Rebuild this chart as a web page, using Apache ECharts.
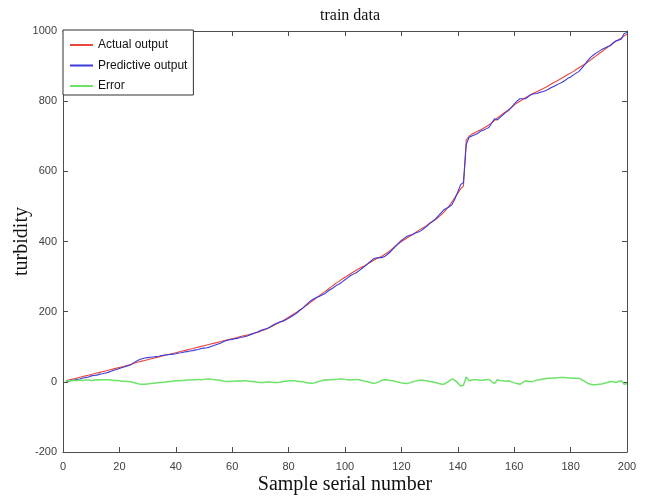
<!DOCTYPE html>
<html>
<head>
<meta charset="utf-8">
<title>train data</title>
<script src="https://cdn.jsdelivr.net/npm/echarts@6/dist/echarts.min.js"></script>
<style>
  html, body { margin: 0; padding: 0; background: #fff; }
  #chart { width: 649px; height: 498px; }
</style>
</head>
<body>
<div id="chart"></div>
<script>
// Turbidity model on the training set: measured vs predicted, samples 1..200
const sampleCount = 200;

const actualOutput = [
  3, 5, 7, 9, 11, 13, 15, 17, 19, 21,
  23, 25, 27, 29, 31, 33, 35, 37, 39, 41,
  43, 45, 47, 49, 52, 55, 57, 59, 61, 63,
  65, 67, 69, 71, 73, 75, 77, 79, 81, 83,
  85, 87, 89, 91, 93, 95, 97, 99, 101, 103,
  105, 107, 109, 111, 113, 115, 117, 119, 121, 123,
  125, 127, 129, 131, 133, 135, 137, 139, 141, 144,
  147, 150, 154, 158, 162, 166, 170, 174, 179, 184,
  189, 194, 199, 205, 210, 216, 222, 228, 234, 240,
  246, 252, 258, 264, 270, 276, 282, 287, 293, 298,
  303, 308, 313, 318, 323, 327, 331, 336, 341, 346,
  350, 354, 358, 363, 368, 374, 381, 388, 394, 400,
  405, 410, 415, 420, 426, 431, 436, 441, 446, 452,
  457, 462, 468, 475, 483, 492, 502, 514, 526, 538,
  550, 558, 690, 700, 706, 710, 714, 718, 722, 727,
  732, 738, 745, 752, 758, 764, 770, 776, 782, 789,
  795, 800, 805, 810, 815, 819, 823, 827, 831, 835,
  839, 843, 848, 853, 857, 862, 866, 871, 876, 880,
  885, 890, 895, 900, 905, 911, 917, 923, 929, 935,
  941, 947, 953, 959, 965, 970, 975, 980, 986, 991
];

const predictiveOutput = [
  1, 2, 4, 5, 7, 8, 11, 12, 14, 17,
  18, 19, 22, 23, 25, 27, 30, 33, 35, 38,
  41, 43, 46, 49, 54, 59, 63, 66, 68, 69,
  70, 71, 72, 73, 75, 76, 77, 78, 79, 80,
  82, 83, 85, 86, 88, 89, 91, 92, 95, 96,
  97, 99, 102, 105, 108, 111, 115, 118, 120, 121,
  123, 124, 127, 128, 130, 133, 136, 139, 142, 146,
  149, 151, 154, 159, 164, 168, 171, 173, 177, 181,
  186, 191, 197, 204, 210, 218, 225, 232, 237, 241,
  244, 248, 252, 259, 264, 269, 275, 279, 285, 291,
  297, 303, 307, 311, 317, 323, 329, 336, 343, 350,
  353, 354, 354, 357, 363, 370, 378, 387, 395, 403,
  409, 415, 418, 420, 424, 427, 431, 437, 443, 451,
  457, 464, 472, 481, 490, 495, 499, 506, 522, 541,
  562, 568, 676, 697, 701, 704, 708, 714, 717, 721,
  725, 737, 750, 746, 754, 761, 768, 773, 782, 792,
  800, 807, 807, 807, 813, 819, 821, 822, 825, 827,
  830, 833, 838, 842, 846, 850, 854, 859, 865, 869,
  875, 880, 885, 894, 904, 915, 924, 931, 937, 942,
  947, 951, 955, 958, 965, 972, 974, 977, 993, 996
];

const errorValues = [
  2, 3, 3, 4, 4, 5, 4, 5, 5, 4,
  5, 6, 5, 6, 6, 6, 5, 4, 4, 3,
  2, 2, 1, 0, -2, -4, -6, -7, -7, -6,
  -5, -4, -3, -2, -2, -1, 0, 1, 2, 3,
  3, 4, 4, 5, 5, 6, 6, 7, 6, 7,
  8, 8, 7, 6, 5, 4, 2, 1, 1, 2,
  2, 3, 2, 3, 3, 2, 1, 0, -1, -2,
  -2, -1, 0, -1, -2, -2, -1, 1, 2, 3,
  3, 3, 2, 1, 0, -2, -3, -4, -3, -1,
  2, 4, 6, 5, 6, 7, 7, 8, 8, 7,
  6, 5, 6, 7, 6, 4, 2, 0, -2, -4,
  -3, 0, 4, 6, 5, 4, 3, 1, -1, -3,
  -4, -5, -3, 0, 2, 4, 5, 4, 3, 1,
  0, -2, -4, -6, -7, -3, 3, 8, 4, -3,
  -12, -10, 14, 3, 5, 6, 6, 4, 5, 6,
  7, 1, -5, 6, 4, 3, 2, 3, 0, -3,
  -5, -7, -2, 3, 2, 0, 2, 5, 6, 8,
  9, 10, 10, 11, 11, 12, 12, 12, 11, 11,
  10, 10, 10, 6, 1, -4, -7, -8, -8, -7,
  -6, -4, -2, 1, 0, -2, 1, 3, -7, -5
];

const xTicks = { min: 0, max: 200, interval: 20 };
const yTicks = { min: -200, max: 1000, interval: 200 };

const sampleNumbers = Array.from({ length: sampleCount }, (_, i) => i + 1);
const pairs = values => sampleNumbers.map((s, i) => [s, values[i]]);

const axisColor = '#4d4d4d';
const labelStyle = {
  color: '#404040',
  fontFamily: 'Liberation Sans, Arial, sans-serif',
  fontSize: 11,
  formatter: v => String(v)
};
const serif = 'Liberation Serif, Times New Roman, serif';

const chart = echarts.init(document.getElementById('chart'), null, { renderer: 'canvas' });

const boxAxis = (extra) => Object.assign({
  type: 'value',
  axisLine: { show: true, onZero: false, lineStyle: { color: axisColor, width: 1 } },
  axisTick: { show: true, inside: true, length: 5, lineStyle: { color: axisColor } },
  splitLine: { show: false }
}, extra);

chart.setOption({
  animation: false,
  backgroundColor: '#ffffff',
  title: {
    text: 'train data',
    left: 345,
    textAlign: 'center',
    top: 3,
    textStyle: { fontFamily: serif, fontWeight: 'normal', fontSize: 16, color: '#111' }
  },
  grid: { left: 63, right: 22, top: 31, bottom: 46, containLabel: false, outerBoundsMode: 'none' },
  legend: {
    orient: 'vertical',
    left: 63,
    top: 30,
    padding: [9, 6, 3, 7],
    itemGap: 8.5,
    itemWidth: 23,
    itemHeight: 2,
    icon: 'rect',
    borderColor: '#333',
    borderWidth: 1,
    backgroundColor: '#fff',
    textStyle: { fontFamily: 'Liberation Sans, Arial, sans-serif', fontSize: 12, color: '#111' },
    data: ['Actual output', 'Predictive output', 'Error']
  },
  xAxis: [
    boxAxis({
      min: xTicks.min, max: xTicks.max, interval: xTicks.interval,
      position: 'bottom',
      name: 'Sample serial number',
      nameLocation: 'middle',
      nameMoveOverlap: false,
      nameGap: 23,
      nameTextStyle: { fontFamily: serif, fontSize: 20, color: '#111' },
      axisLabel: Object.assign({ margin: 9 }, labelStyle)
    }),
    boxAxis({
      min: xTicks.min, max: xTicks.max, interval: xTicks.interval,
      position: 'top',
      axisLabel: { show: false }
    })
  ],
  yAxis: [
    boxAxis({
      min: yTicks.min, max: yTicks.max, interval: yTicks.interval,
      position: 'left',
      name: 'turbidity',
      nameLocation: 'middle',
      nameMoveOverlap: false,
      nameGap: 31,
      nameTextStyle: { fontFamily: serif, fontSize: 20, color: '#111' },
      axisLabel: Object.assign({ margin: 6 }, labelStyle)
    }),
    boxAxis({
      min: yTicks.min, max: yTicks.max, interval: yTicks.interval,
      position: 'right',
      axisLabel: { show: false }
    })
  ],
  series: [
    {
      name: 'Actual output',
      type: 'line',
      data: pairs(actualOutput),
      showSymbol: false,
      symbol: 'none',
      color: '#e8473d',
      lineStyle: { width: 1.1, color: '#e8473d' }
    },
    {
      name: 'Predictive output',
      type: 'line',
      data: pairs(predictiveOutput),
      showSymbol: false,
      symbol: 'none',
      color: '#3b3bd8',
      lineStyle: { width: 1.1, color: '#3b3bd8' }
    },
    {
      name: 'Error',
      type: 'line',
      data: pairs(errorValues),
      showSymbol: false,
      symbol: 'none',
      color: '#6ee36a',
      lineStyle: { width: 1.5, color: '#6ee36a' }
    }
  ]
});
</script>
</body>
</html>
